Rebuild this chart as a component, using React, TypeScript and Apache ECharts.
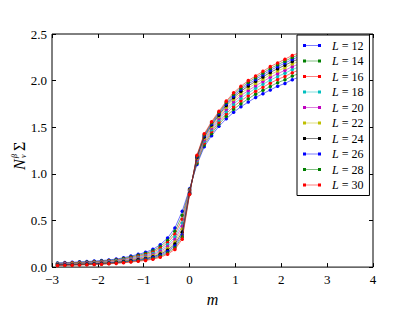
import React, { useEffect, useRef } from "react";
import * as echarts from "echarts";

const M = [-2.88, -2.72, -2.56, -2.4, -2.24, -2.08, -1.92, -1.76, -1.6, -1.44, -1.28, -1.12, -0.96, -0.8, -0.64, -0.48, -0.32, -0.16, 0,
  0.16, 0.32, 0.48, 0.64, 0.8, 0.96, 1.12, 1.28, 1.44, 1.6, 1.76, 1.92, 2.08, 2.24, 2.4, 2.56, 2.72, 2.88, 3.04, 3.2, 3.36];

const L12 = [0.045, 0.048, 0.052, 0.056, 0.06, 0.065, 0.07, 0.077, 0.086, 0.1, 0.118, 0.137, 0.158, 0.19, 0.24, 0.312, 0.42, 0.6, 0.84,
  1.1, 1.29, 1.41, 1.51, 1.59, 1.66, 1.72, 1.77, 1.82, 1.86, 1.9, 1.94, 1.97, 2.01, 2.04, 2.07, 2.1, 2.13, 2.16, 2.18, 2.21];
const L14 = [0.041, 0.044, 0.047, 0.051, 0.055, 0.059, 0.064, 0.071, 0.079, 0.092, 0.108, 0.126, 0.145, 0.174, 0.22, 0.286, 0.385, 0.555, 0.831,
  1.115, 1.311, 1.433, 1.534, 1.619, 1.692, 1.753, 1.805, 1.855, 1.896, 1.938, 1.978, 2.009, 2.049, 2.079, 2.109, 2.139, 2.169, 2.199, 2.221, 2.249];
const L16 = [0.037, 0.04, 0.043, 0.046, 0.05, 0.054, 0.059, 0.065, 0.073, 0.085, 0.099, 0.115, 0.133, 0.16, 0.201, 0.262, 0.353, 0.513, 0.823,
  1.129, 1.331, 1.454, 1.556, 1.645, 1.721, 1.784, 1.837, 1.887, 1.93, 1.973, 2.013, 2.045, 2.085, 2.115, 2.145, 2.175, 2.205, 2.235, 2.258, 2.285];
const L18 = [0.034, 0.036, 0.039, 0.042, 0.045, 0.049, 0.054, 0.059, 0.067, 0.078, 0.091, 0.105, 0.122, 0.146, 0.183, 0.239, 0.323, 0.474, 0.815,
  1.142, 1.349, 1.473, 1.577, 1.67, 1.748, 1.812, 1.867, 1.917, 1.961, 2.005, 2.045, 2.079, 2.119, 2.149, 2.179, 2.209, 2.239, 2.269, 2.293, 2.319];
const L20 = [0.03, 0.032, 0.035, 0.038, 0.041, 0.045, 0.049, 0.054, 0.061, 0.071, 0.083, 0.096, 0.112, 0.133, 0.167, 0.218, 0.296, 0.438, 0.808,
  1.154, 1.366, 1.491, 1.596, 1.693, 1.773, 1.839, 1.894, 1.944, 1.99, 2.035, 2.075, 2.11, 2.15, 2.18, 2.21, 2.24, 2.27, 2.3, 2.326, 2.35];
const L22 = [0.027, 0.029, 0.032, 0.035, 0.037, 0.041, 0.045, 0.05, 0.056, 0.066, 0.076, 0.088, 0.102, 0.122, 0.152, 0.199, 0.27, 0.405, 0.801,
  1.165, 1.381, 1.508, 1.614, 1.714, 1.797, 1.863, 1.92, 1.97, 2.016, 2.063, 2.103, 2.139, 2.179, 2.209, 2.239, 2.269, 2.299, 2.329, 2.356, 2.379];
const L24 = [0.025, 0.026, 0.029, 0.031, 0.034, 0.037, 0.041, 0.045, 0.051, 0.06, 0.07, 0.081, 0.093, 0.111, 0.139, 0.181, 0.247, 0.375, 0.795,
  1.175, 1.395, 1.523, 1.63, 1.733, 1.818, 1.885, 1.943, 1.993, 2.04, 2.088, 2.128, 2.165, 2.205, 2.235, 2.265, 2.295, 2.325, 2.355, 2.383, 2.405];
const L26 = [0.022, 0.024, 0.026, 0.028, 0.031, 0.034, 0.037, 0.042, 0.047, 0.055, 0.064, 0.074, 0.086, 0.102, 0.127, 0.166, 0.227, 0.348, 0.79,
  1.184, 1.408, 1.536, 1.644, 1.75, 1.836, 1.905, 1.963, 2.013, 2.062, 2.11, 2.15, 2.188, 2.228, 2.258, 2.288, 2.318, 2.348, 2.378, 2.407, 2.428];
const L28 = [0.02, 0.021, 0.023, 0.026, 0.028, 0.031, 0.034, 0.038, 0.044, 0.051, 0.059, 0.068, 0.079, 0.093, 0.116, 0.152, 0.208, 0.324, 0.785,
  1.192, 1.419, 1.548, 1.657, 1.765, 1.853, 1.922, 1.982, 2.032, 2.081, 2.13, 2.17, 2.209, 2.249, 2.279, 2.309, 2.339, 2.369, 2.399, 2.428, 2.449];
const L30 = [0.018, 0.019, 0.021, 0.023, 0.025, 0.028, 0.031, 0.035, 0.04, 0.047, 0.054, 0.062, 0.072, 0.085, 0.105, 0.138, 0.19, 0.3, 0.78,
  1.2, 1.43, 1.56, 1.67, 1.78, 1.87, 1.94, 2.0, 2.05, 2.1, 2.15, 2.19, 2.23, 2.27, 2.3, 2.33, 2.36, 2.39, 2.42, 2.45, 2.47];

const SIZES = ["12", "14", "16", "18", "20", "22", "24", "26", "28", "30"];
const VALUES = [L12, L14, L16, L18, L20, L22, L24, L26, L28, L30];
const COLORS = ["#0000ff", "#008000", "#ff0000", "#00bfbf", "#bf00bf", "#bfbf00", "#000000", "#0000ff", "#008000", "#ff0000"];

const FONT = "'Liberation Serif', 'DejaVu Serif', serif";

export default function App() {
  const ref = useRef<HTMLDivElement>(null);
  useEffect(() => {
    const chart = echarts.init(ref.current!, null, { renderer: "svg" });
    const names = SIZES.map((s) => `L = ${s}`);
    const series = VALUES.map((vals, i) => ({
      name: names[i],
      type: "line",
      data: vals.map((v, j) => [M[j], v]),
      symbol: "circle",
      symbolSize: 3.5,
      showSymbol: true,
      itemStyle: { color: COLORS[i], borderWidth: 0 },
      lineStyle: { color: COLORS[i], width: 1, opacity: 0.55 },
      emphasis: { disabled: true },
      z: 2 + i * 0.01,
    }));
    const tickStyle = { inside: true, length: 4, lineStyle: { color: "#000", width: 1 } };
    const noLine = { show: false, onZero: false };
    chart.setOption({
      animation: false,
      grid: { left: 52, right: 42, top: 34, bottom: 38, show: true, borderColor: "#000", borderWidth: 1, backgroundColor: "#fff" },
      xAxis: [
        {
          type: "value", min: -3, max: 4, interval: 1, position: "bottom",
          axisLine: noLine, splitLine: { show: false }, axisTick: tickStyle,
          axisLabel: { fontFamily: FONT, fontSize: 13, color: "#000", margin: 6, formatter: (v: number) => String(v).replace("-", "\u2212") },
          name: "m", nameLocation: "middle", nameGap: 18,
          nameTextStyle: { fontFamily: FONT, fontSize: 16, fontStyle: "italic", color: "#000" },
        },
        {
          type: "value", min: -3, max: 4, interval: 1, position: "top",
          axisLine: noLine, splitLine: { show: false }, axisTick: tickStyle, axisLabel: { show: false },
        },
      ],
      yAxis: [
        {
          type: "value", min: 0, max: 2.5, interval: 0.5, position: "left",
          axisLine: noLine, splitLine: { show: false }, axisTick: tickStyle,
          axisLabel: { fontFamily: FONT, fontSize: 13, color: "#000", margin: 5, formatter: (v: number) => v.toFixed(1) },
        },
        {
          type: "value", min: 0, max: 2.5, interval: 0.5, position: "right",
          axisLine: noLine, splitLine: { show: false }, axisTick: tickStyle, axisLabel: { show: false },
        },
      ],
      legend: {
        orient: "vertical", left: 297, top: 35,
        padding: [4, 6, 4, 6],
        itemGap: 2.5, itemWidth: 18, itemHeight: 3,
        icon: "path://M0,2.5H36V3.5H0Z M0,0H6V6H0Z M30,0H36V6H30Z",
        itemStyle: { borderWidth: 0 },
        backgroundColor: "#fff", borderColor: "#000", borderWidth: 1, borderRadius: 0,
        textStyle: {
          fontFamily: FONT, fontSize: 12, color: "#000", lineHeight: 13, padding: [0, 0, 0, 6],
          rich: { i: { fontFamily: FONT, fontSize: 12, fontStyle: "italic", color: "#000" } },
        },
        formatter: (name: string) => `{i|L} = ${name.replace("L = ", "")}`,
        data: names,
        selectedMode: false,
      },
      graphic: [
        {
          type: "group", x: 19, y: 155, rotation: Math.PI / 2,
          children: [
            { type: "text", x: -15, y: 0, style: { text: "N", fontFamily: FONT, fontSize: 16, fontStyle: "italic", fill: "#000", textAlign: "left", textVerticalAlign: "middle" } },
            { type: "text", x: -3, y: -5, style: { text: "β", fontFamily: FONT, fontSize: 8, fontStyle: "italic", fill: "#000", textAlign: "left", textVerticalAlign: "middle" } },
            { type: "text", x: -3, y: 4, style: { text: "ν", fontFamily: FONT, fontSize: 8, fontStyle: "italic", fill: "#000", textAlign: "left", textVerticalAlign: "middle" } },
            { type: "text", x: 4, y: 0, style: { text: "Σ", fontFamily: FONT, fontSize: 16, fill: "#000", textAlign: "left", textVerticalAlign: "middle" } },
          ],
        },
      ],
      series,
    });
    return () => chart.dispose();
  }, []);
  return <div ref={ref} style={{ position: "fixed", left: 0, top: 0, width: 415, height: 312, background: "#fff" }} />;
}
